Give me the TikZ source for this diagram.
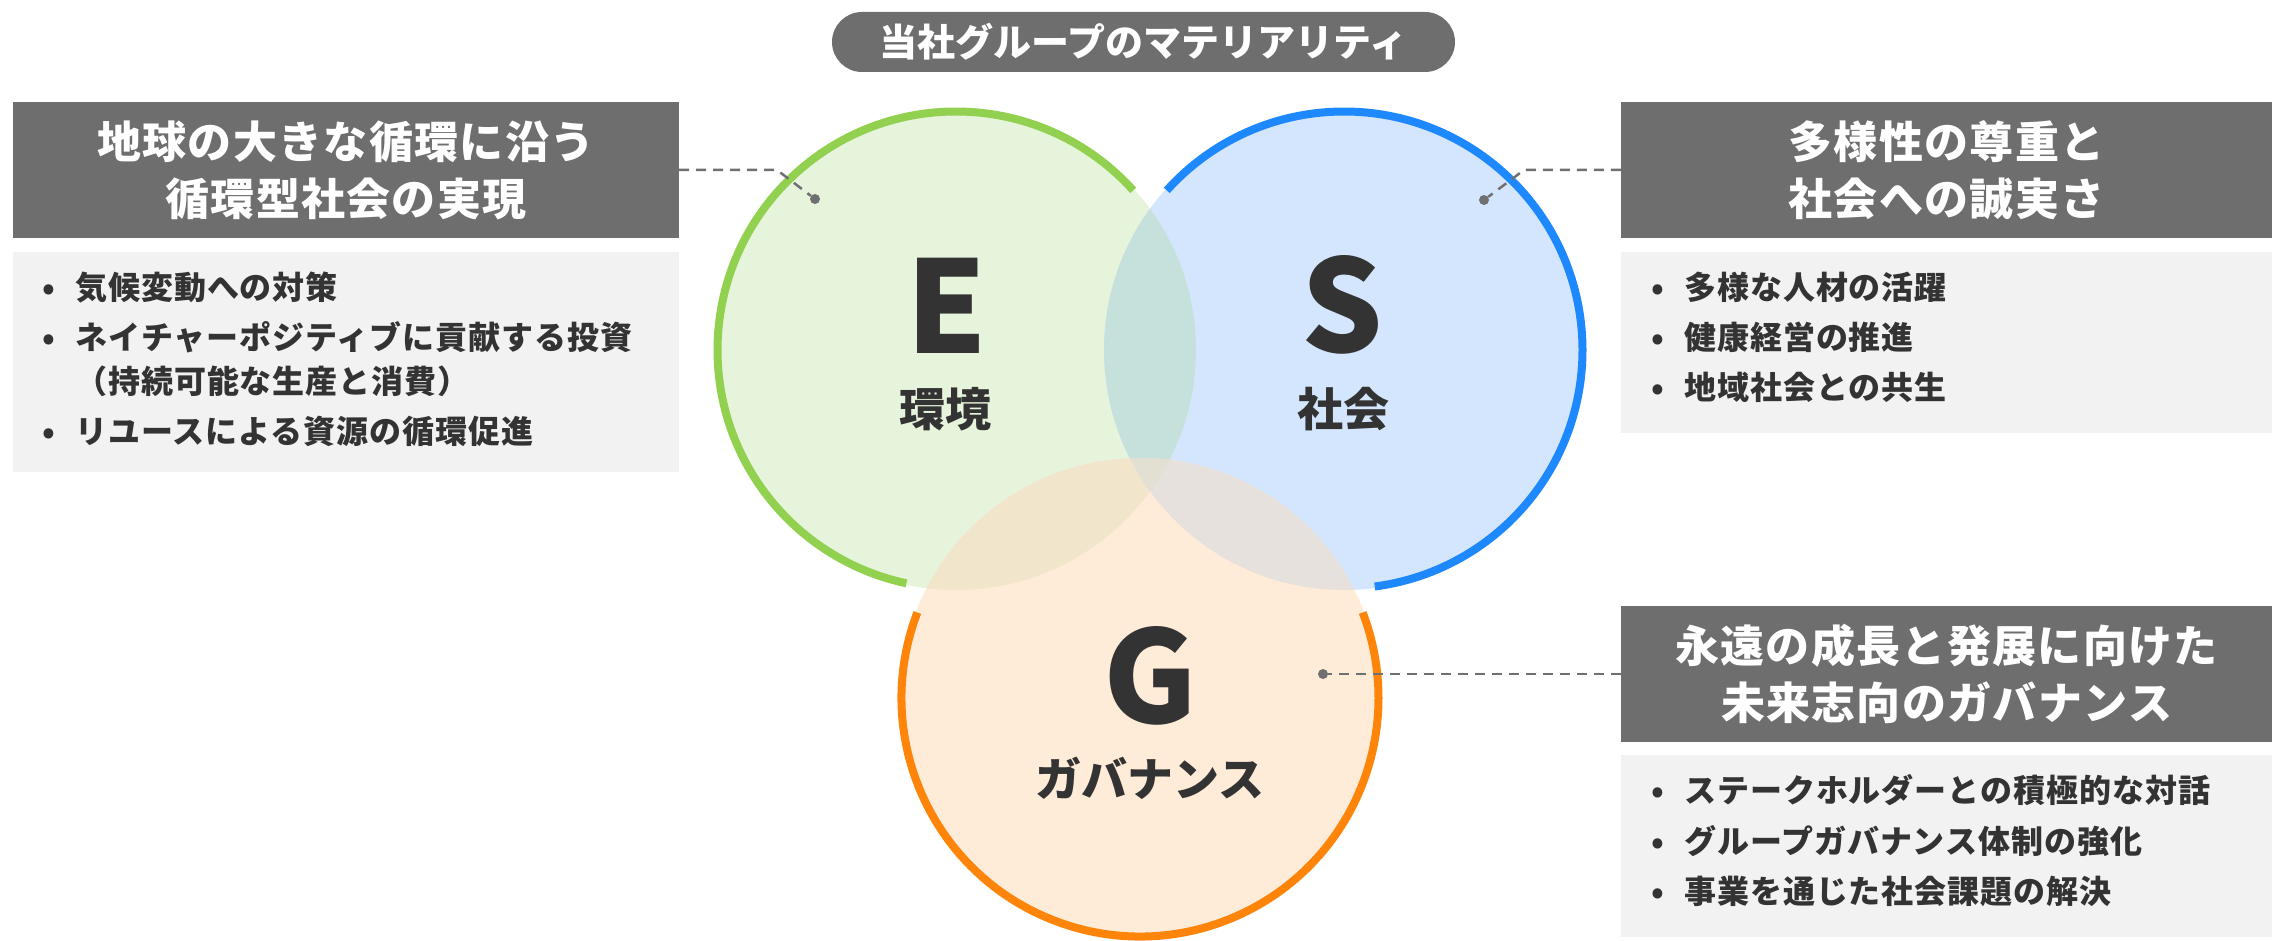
\documentclass[tikz,border=0pt]{standalone}
\usepackage{fontspec}
\newfontfamily\jp{Noto Sans CJK JP}
\newfontfamily\jpsp{Noto Sans CJK JP}[LetterSpace=3]
\usetikzlibrary{calc}
\definecolor{hdrgray}{HTML}{6E6E6E}
\definecolor{bulbg}{HTML}{F2F2F2}
\definecolor{txt}{HTML}{333333}
\definecolor{conngray}{HTML}{707070}
\definecolor{gE}{HTML}{92D050}
\definecolor{bS}{HTML}{1E88FF}
\definecolor{oG}{HTML}{FF840A}
\definecolor{fE}{HTML}{E7F4DC}
\definecolor{fS}{HTML}{D3E6FD}
\definecolor{fG}{HTML}{FEEBD8}
\definecolor{fES}{HTML}{C6E1DB}
\definecolor{fEG}{HTML}{F1E6CC}
\definecolor{fSG}{HTML}{E7E1DD}
\definecolor{fESG}{HTML}{E2E0D2}
\begin{document}
\begin{tikzpicture}[x=1pt,y=-1pt,
  hdr/.style={fill=hdrgray, text=white, inner sep=0pt, align=center,
    font=\jpsp\bfseries\fontsize{44pt}{57pt}\selectfont},
  bulbox/.style={fill=bulbg, inner sep=0pt},
  bul/.style={anchor=base west, inner sep=0pt, text=txt,
    font=\jpsp\bfseries\fontsize{32pt}{40pt}\selectfont},
  bigletter/.style={anchor=base, inner sep=0pt, text=txt,
    font=\jp\bfseries\fontsize{128pt}{130pt}\selectfont},
  clabel/.style={anchor=base, inner sep=0pt, text=txt,
    font=\jp\bfseries\fontsize{46pt}{50pt}\selectfont},
  conn/.style={draw=conngray, line width=2.5pt, dash pattern=on 10pt off 7pt},
  dotnode/.style={circle, fill=conngray, inner sep=0pt, minimum size=10pt},
  ringarc/.style={line width=8pt}
]
\useasboundingbox (0,0) rectangle (2272,941);

% title pill
\node[fill=hdrgray, rounded corners=30pt, minimum width=623pt, minimum height=60pt,
  inner sep=0pt, text=white, font=\jp\bfseries\fontsize{38pt}{40pt}\selectfont]
  (title) at (1143.5,42) {当社グループのマテリアリティ};

% circles
\coordinate (cE) at (956,350);
\coordinate (cS) at (1344,350);
\coordinate (cG) at (1140,698);
\fill[fE] (cE) circle[radius=240];
\fill[fS] (cS) circle[radius=240];
\fill[fG] (cG) circle[radius=240];
\begin{scope}
  \clip (cE) circle[radius=240];
  \fill[fES] (cS) circle[radius=240];
  \fill[fEG] (cG) circle[radius=240];
\end{scope}
\begin{scope}
  \clip (cS) circle[radius=240];
  \fill[fSG] (cG) circle[radius=240];
\end{scope}
\begin{scope}
  \clip (cE) circle[radius=240];
  \clip (cS) circle[radius=240];
  \fill[fESG] (cG) circle[radius=240];
\end{scope}

% rings
\draw[ringarc, gE] ([shift={(-42:238.5)}]cE) arc[start angle=-42, end angle=-258, radius=238.5];
\draw[ringarc, bS] ([shift={(-138:238.5)}]cS) arc[start angle=-138, end angle=82.6, radius=238.5];
\draw[ringarc, oG] ([shift={(-159:238.5)}]cG) arc[start angle=-159, end angle=-381, radius=238.5];

% circle labels
\node[bigletter] (lE) at (947,353) {E};
\node[clabel] (tE) at (945,426) {環境};
\node[bigletter] (lS) at (1342,352) {S};
\node[clabel] (tS) at (1343,426) {社会};
\node[bigletter] (lG) at (1150,723) {G};
\node[clabel] (tG) at (1150,796) {ガバナンス};

% E boxes
\node[hdr, minimum width=666pt, minimum height=136pt] (hE) at (346,170)
  {地球の大きな循環に沿う\\循環型社会の実現};
\node[bulbox, minimum width=666pt, minimum height=220pt] (bE) at (346,362) {};
\node[bul] (e1) at (75,299) {\llap{•\hspace{20pt}}気候変動への対策};
\node[bul] (e2) at (75,349) {\llap{•\hspace{20pt}}ネイチャーポジティブに貢献する投資};
\node[bul] (e3) at (75,393) {（持続可能な生産と消費）};
\node[bul] (e4) at (75,443) {\llap{•\hspace{20pt}}リユースによる資源の循環促進};

% S boxes
\node[hdr, minimum width=651pt, minimum height=136pt] (hS) at (1946.5,170)
  {多様性の尊重と\\社会への誠実さ};
\node[bulbox, minimum width=651pt, minimum height=181pt] (bS) at (1946.5,342.5) {};
\node[bul] (s1) at (1684,299) {\llap{•\hspace{20pt}}多様な人材の活躍};
\node[bul] (s2) at (1684,349) {\llap{•\hspace{20pt}}健康経営の推進};
\node[bul] (s3) at (1684,399) {\llap{•\hspace{20pt}}地域社会との共生};

% G boxes
\node[hdr, minimum width=651pt, minimum height=136pt] (hG) at (1946.5,674)
  {永遠の成長と発展に向けた\\未来志向のガバナンス};
\node[bulbox, minimum width=651pt, minimum height=182pt] (bG) at (1946.5,846) {};
\node[bul] (g1) at (1684,802) {\llap{•\hspace{20pt}}ステークホルダーとの積極的な対話};
\node[bul] (g2) at (1684,853) {\llap{•\hspace{20pt}}グループガバナンス体制の強化};
\node[bul] (g3) at (1684,903) {\llap{•\hspace{20pt}}事業を通じた社会課題の解決};

% connectors
\node[dotnode] (dE) at (815,199) {};
\coordinate (kE) at (777,170);
\draw[conn] (hE.east) -- (kE) -- (dE);
\node[dotnode] (dS) at (1484,200) {};
\coordinate (kS) at (1524,170);
\draw[conn] (hS.west) -- (kS) -- (dS);
\node[dotnode] (dG) at (1323,674) {};
\draw[conn] (hG.west) -- (dG);
\end{tikzpicture}
\end{document}
